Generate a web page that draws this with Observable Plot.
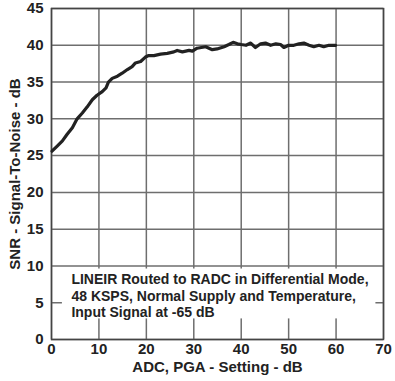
<!DOCTYPE html>
<html>
<head>
<meta charset="utf-8">
<script src="https://cdn.jsdelivr.net/npm/d3@7"></script>
<script src="https://cdn.jsdelivr.net/npm/@observablehq/plot@0.6"></script>
<style>
  html, body { margin: 0; padding: 0; background: #fff; }
</style>
</head>
<body>
<div id="chart"></div>
<script>
// PGA setting (dB)
const pga = [0.1, 1.2, 2.3, 3.3, 4.4, 5.4, 6.5, 7.5, 8.6, 9.6, 10.7, 11.5, 12.0, 12.8, 13.9, 14.9, 16.0, 17.0, 17.7, 18.8, 19.8, 20.5, 21.6, 23.0, 24.4, 25.8, 26.5, 27.6, 29.0, 29.7, 30.7, 32.5, 33.9, 34.9, 36.4, 37.4, 38.3, 39.2, 40.0, 41.0, 42.0, 43.0, 44.1, 45.1, 46.2, 47.3, 48.3, 49.0, 50.0, 51.1, 52.2, 53.2, 54.3, 55.3, 56.4, 57.4, 58.5, 59.9];
// SNR (dB)
const snr = [25.6, 26.3, 27.0, 27.9, 28.8, 30.0, 30.8, 31.6, 32.6, 33.2, 33.7, 34.2, 35.0, 35.5, 35.8, 36.2, 36.7, 37.1, 37.6, 37.8, 38.4, 38.6, 38.6, 38.8, 38.9, 39.1, 39.3, 39.1, 39.3, 39.2, 39.6, 39.8, 39.4, 39.5, 39.8, 40.1, 40.4, 40.2, 40.1, 40.0, 40.3, 39.7, 40.2, 40.3, 40.0, 40.2, 40.1, 39.7, 40.0, 40.0, 40.2, 40.3, 40.0, 39.8, 40.0, 39.8, 40.0, 40.0];
const xTicks = [0, 10, 20, 30, 40, 50, 60, 70];
const yTicks = [0, 5, 10, 15, 20, 25, 30, 35, 40, 45];
const note = "LINEIR Routed to RADC in Differential Mode,\n48 KSPS, Normal Supply and Temperature,\nInput Signal at -65 dB";
const xLabel = "ADC, PGA - Setting - dB";
const yLabel = "SNR - Signal-To-Noise - dB";

const data = pga.map((x, i) => ({x, y: snr[i]}));

const chart = Plot.plot({
  width: 395,
  height: 381,
  marginLeft: 51,
  marginRight: 12,
  marginTop: 8,
  marginBottom: 42,
  style: {fontFamily: "'Liberation Sans', Arial, sans-serif", fontWeight: "bold", fontSize: "15px", color: "#222", background: "#fff"},
  x: {domain: [0, 70]},
  y: {domain: [0, 45]},
  marks: [
    Plot.ruleX(xTicks, {stroke: "#6e6e6e", strokeWidth: 1.5, strokeOpacity: 1}),
    Plot.ruleY(yTicks, {stroke: "#6e6e6e", strokeWidth: 1.5, strokeOpacity: 1}),
    Plot.rect([{x1: 2.3, x2: 68.4, y1: 2.8, y2: 9.58}], {x1: "x1", x2: "x2", y1: "y1", y2: "y2", fill: "#fff"}),
    Plot.frame({stroke: "#444", strokeWidth: 1.5}),
    Plot.axisX({ticks: xTicks, tickSize: 0, tickPadding: 4, tickFormat: d => d, label: xLabel, labelAnchor: "center", labelArrow: "none", labelOffset: 32, fontSize: 15, fill: "#222"}),
    Plot.axisY({ticks: yTicks, tickSize: 0, tickPadding: 8, tickFormat: d => d, label: yLabel, labelAnchor: "center", labelArrow: "none", labelOffset: 42, fontSize: 15, fill: "#222"}),
    Plot.text([note], {x: 4.2, y: 5.96, text: d => d, textAnchor: "start", lineAnchor: "middle", lineHeight: 1.18, fontSize: 14, fontWeight: "bold", fill: "#222"}),
    Plot.line(data, {x: "x", y: "y", stroke: "#222", strokeWidth: 3.2, strokeLinejoin: "round", strokeLinecap: "round"})
  ]
});
document.getElementById("chart").appendChild(chart);
</script>
</body>
</html>
